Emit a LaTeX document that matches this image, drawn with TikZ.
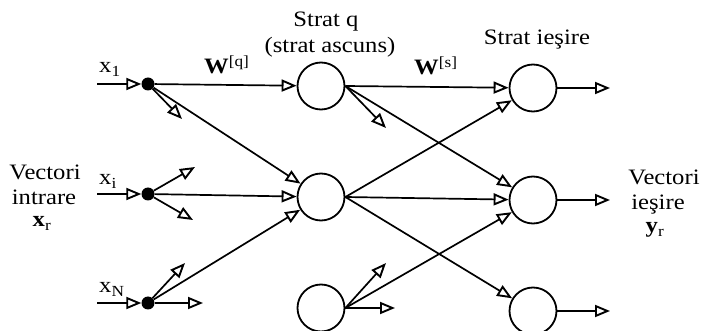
\documentclass[tikz,border=0pt]{standalone}
\usepackage{fontspec}
\setmainfont{Liberation Serif}[FakeStretch=1.12]
\usetikzlibrary{arrows.meta}
\begin{document}
\begin{tikzpicture}[x=1pt,y=-1pt,
  neuron/.style={circle,draw,line width=1.8pt,minimum size=47pt,inner sep=0pt},
  dot/.style={circle,fill,inner sep=0pt,minimum size=13pt},
  conn/.style={line width=1.7pt,-{Triangle[open,length=15pt,width=12pt,line width=1.9pt]}},
  lbl/.style={font=\fontsize{22}{25}\selectfont,inner sep=0pt}
]
\useasboundingbox (0,0) rectangle (702,331);

% input points
\coordinate (s1) at (97,84);
\coordinate (s2) at (97,194);
\coordinate (s3) at (97,303);
\node[dot] (d1) at (148,84) {};
\node[dot] (d2) at (148,194) {};
\node[dot] (d3) at (148,303) {};

% hidden layer
\node[neuron] (h1) at (321,86) {};
\node[neuron] (h2) at (321,197) {};
\node[neuron] (h3) at (321,308) {};

% output layer
\node[neuron] (o1) at (533,88) {};
\node[neuron] (o2) at (533,200) {};
\node[neuron] (o3) at (533,311) {};

% free ends of the short arrows
\coordinate (t1) at (182,119);
\coordinate (t2a) at (195,167);
\coordinate (t2b) at (193,220);
\coordinate (t3a) at (185,263);
\coordinate (t3b) at (203,303);
\coordinate (u1) at (386,128);
\coordinate (u3a) at (386,263);
\coordinate (u3b) at (395,308);
\coordinate (y1) at (610,88);
\coordinate (y2) at (610,200);
\coordinate (y3) at (610,311);

% inputs
\draw[conn] (s1) -- (d1);
\draw[conn] (s2) -- (d2);
\draw[conn] (s3) -- (d3);

% input -> hidden
\draw[conn] (d1) -- (h1);
\draw[conn] (d1) -- (h2);
\draw[conn] (d2) -- (h2);
\draw[conn] (d3) -- (h2);
\draw[conn] (d1) -- (t1);
\draw[conn] (d2) -- (t2a);
\draw[conn] (d2) -- (t2b);
\draw[conn] (d3) -- (t3a);
\draw[conn] (d3) -- (t3b);

% hidden -> output
\draw[conn] (h1.east) -- (o1);
\draw[conn] (h1.east) -- (o2);
\draw[conn] (h2.east) -- (o1);
\draw[conn] (h2.east) -- (o2);
\draw[conn] (h2.east) -- (o3);
\draw[conn] (h3.east) -- (o2);
\draw[conn] (h1.east) -- (u1);
\draw[conn] (h3.east) -- (u3a);
\draw[conn] (h3.east) -- (u3b);

% outputs
\draw[conn] (o1.east) -- (y1);
\draw[conn] (o2.east) -- (y2);
\draw[conn] (o3.east) -- (y3);

% labels
\node[lbl,anchor=base west] (lx1) at (99,73) {x\textsubscript{1}};
\node[lbl,anchor=base west] (lxi) at (99,185) {x\textsubscript{i}};
\node[lbl,anchor=base west] (lxn) at (99,293) {x\textsubscript{N}};
\node[lbl,anchor=base west] (lwq) at (204,74) {\textbf{W}\textsuperscript{[q]}};
\node[lbl,anchor=base west] (lws) at (414,75) {\textbf{W}\textsuperscript{[s]}};
\node[lbl,anchor=base] (lsq) at (326,27) {Strat q};
\node[lbl,anchor=base] (lsa) at (330,53) {(strat ascuns)};
\node[lbl,anchor=base] (lsi) at (537,45) {Strat ieşire};
\node[lbl,anchor=base] (lv1) at (45,180) {Vectori};
\node[lbl,anchor=base] (lin) at (44,205) {intrare};
\node[lbl,anchor=base] (lxr) at (42,227) {\textbf{x}\textsubscript{r}};
\node[lbl,anchor=base] (lv2) at (664,185) {Vectori};
\node[lbl,anchor=base] (lie) at (658,210) {ieşire};
\node[lbl,anchor=base] (lyr) at (655,233) {\textbf{y}\textsubscript{r}};
\end{tikzpicture}
\end{document}
